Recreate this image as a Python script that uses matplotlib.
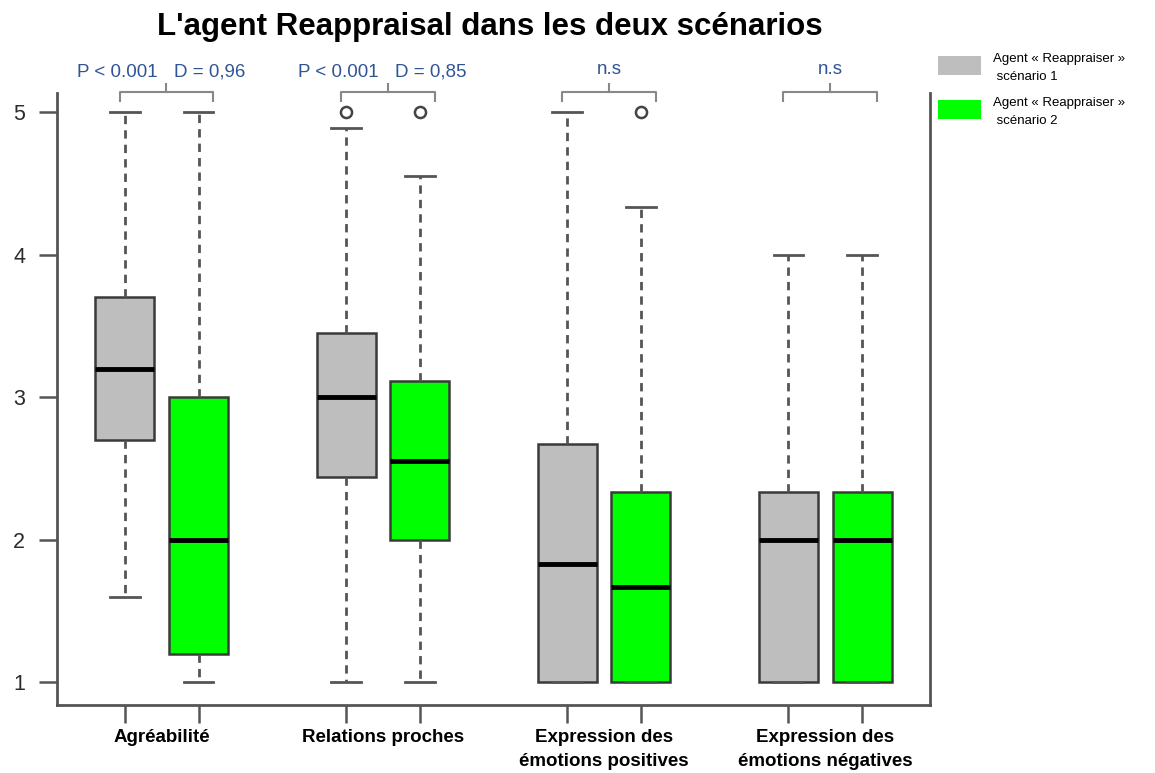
import matplotlib
matplotlib.use("Agg")
import matplotlib.pyplot as plt
from matplotlib.patches import Rectangle

# ---- data ----
categories = ["Agréabilité", "Relations proches",
              "Expression des\némotions positives", "Expression des\némotions négatives"]
series_names = ["Agent « Reappraiser »\n scénario 1", "Agent « Reappraiser »\n scénario 2"]
# five-number summaries [whislo, q1, med, q3, whishi]
scen1 = [[1.60, 2.70, 3.20, 3.70, 5.00],
         [1.00, 2.44, 3.00, 3.45, 4.89],
         [1.00, 1.00, 1.83, 2.67, 5.00],
         [1.00, 1.00, 2.00, 2.33, 4.00]]
scen2 = [[1.00, 1.20, 2.00, 3.00, 5.00],
         [1.00, 2.00, 2.55, 3.11, 4.55],
         [1.00, 1.00, 1.67, 2.33, 4.33],
         [1.00, 1.00, 2.00, 2.33, 4.00]]
outliers1 = [[], [5.0], [], []]
outliers2 = [[], [5.0], [5.0], []]
p_labels = ["P < 0.001", "P < 0.001", "", ""]
d_labels = ["D = 0,96", "D = 0,85", "", ""]
ns_labels = ["", "", "n.s", "n.s"]
yticks = [1, 2, 3, 4, 5]
title = "L'agent Reappraisal dans les deux scénarios"

colors = ["#bebebe", "#00ff00"]

fig = plt.figure(figsize=(11.55, 7.73), dpi=100)
ax = fig.add_axes([57/1155, 1-705/773, (930-57)/1155, (705-93)/773])

def stats(v, fl):
    return dict(whislo=v[0], q1=v[1], med=v[2], q3=v[3], whishi=v[4], fliers=fl)

pos1 = [1 + 3*i for i in range(len(categories))]
pos2 = [2 + 3*i for i in range(len(categories))]

for data, outl, pos, col in [(scen1, outliers1, pos1, colors[0]),
                             (scen2, outliers2, pos2, colors[1])]:
    ax.bxp([stats(v, o) for v, o in zip(data, outl)], positions=pos, widths=0.8,
           patch_artist=True,
           boxprops=dict(facecolor=col, edgecolor="#3a3a3a", linewidth=1.8),
           medianprops=dict(color="black", linewidth=3.5, solid_capstyle="butt"),
           whiskerprops=dict(color="#555555", linewidth=2, linestyle=(0, (3, 2.2))),
           capprops=dict(color="#555555", linewidth=2),
           capwidths=0.4,
           flierprops=dict(marker="o", markerfacecolor="white", markeredgecolor="#444444",
                           markersize=8, markeredgewidth=1.8))

ax.set_xlim(0.08, 11.92)
ax.set_ylim(1 - 23/142.5, 5 + 19/142.5)

ax.spines["top"].set_visible(False)
for s in ["left", "bottom", "right"]:
    ax.spines[s].set_color("#555555")
    ax.spines[s].set_linewidth(2)

ax.set_yticks(yticks)
ax.set_yticklabels([str(t) for t in yticks], fontsize=15.5, color="#2b2b2b",
                   family="Liberation Sans")
ax.tick_params(axis="y", length=13, width=1.8, color="#555555", pad=10)
ax.set_xticks(sorted(pos1 + pos2))
ax.set_xticklabels([])
ax.tick_params(axis="x", which="major", length=13, width=1.8, color="#555555")
ax.set_xticks([p + 0.5 for p in pos1], minor=True)
ax.set_xticklabels(categories, minor=True, fontsize=13.5, fontweight="bold",
                   family="Liberation Sans", linespacing=1.55)
ax.tick_params(axis="x", which="minor", length=0, pad=17)
for lab in ax.get_xticklabels(minor=True):
    lab.set_verticalalignment("top")

# significance brackets
ybar = 5 + (112 - 92) / 142.5
yend = 5 + (112 - 101) / 142.5
ytop = 5 + (112 - 84) / 142.5
ytext = 5 + (112 - 72) / 142.5
for i in range(len(categories)):
    a, b = pos1[i] - 0.07, pos2[i] + 0.2
    c = (a + b) / 2
    ax.plot([a, a, b, b], [yend, ybar, ybar, yend], color="#888888", lw=1.5, clip_on=False)
    ax.plot([c, c], [ybar, ytop], color="#888888", lw=1.5, clip_on=False)
    tkw = dict(fontsize=13.5, color="#2f5597", ha="center", va="center",
               family="Liberation Sans", clip_on=False)
    if p_labels[i]:
        ax.text(pos1[i] - 0.1, ytext, p_labels[i], **tkw)
        ax.text(pos2[i] + 0.15, ytext, d_labels[i], **tkw)
    if ns_labels[i]:
        ax.text(c, ytext + 0.02, ns_labels[i], **tkw)

fig.text(490/1155, 1 - 27/773, title, ha="center", va="center", fontsize=22.5,
         fontweight="bold", family="Liberation Sans")

# legend
leg_y = [56, 100]
for k, (name, col) in enumerate(zip(series_names, colors)):
    y0 = leg_y[k]
    fig.patches.append(Rectangle((938/1155, 1 - (y0 + 19)/773), 43/1155, 19/773,
                                 transform=fig.transFigure, facecolor=col,
                                 edgecolor="none"))
    fig.text(993/1155, 1 - (y0 + 12)/773, name, ha="left", va="center",
             fontsize=9.5, linespacing=1.7, family="Liberation Sans")

fig.savefig("out.png", dpi=100)
